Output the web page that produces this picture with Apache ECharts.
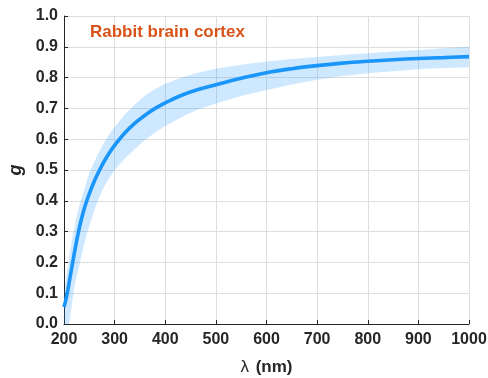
<!DOCTYPE html>
<html>
<head>
<meta charset="utf-8">
<script src="https://cdn.jsdelivr.net/npm/echarts@6/dist/echarts.min.js"></script>
<style>
  html, body { margin: 0; padding: 0; background: #fff; }
  #chart { width: 488px; height: 378px; }
</style>
</head>
<body>
<div id="chart"></div>
<script>
// Wavelength samples (nm)
const wavelength = [200, 205, 210, 215, 220, 225, 230, 235, 240, 245, 250, 260, 270, 280, 290, 300, 320, 340, 360, 380, 400, 430, 460, 500, 550, 600, 650, 700, 750, 800, 850, 900, 950, 1000];
// Anisotropy factor g (mean curve)
const gMean = [0.055, 0.088, 0.133, 0.18, 0.226, 0.27, 0.31, 0.344, 0.374, 0.40, 0.423, 0.464, 0.499, 0.53, 0.557, 0.58, 0.62, 0.652, 0.678, 0.70, 0.718, 0.741, 0.759, 0.777, 0.798, 0.816, 0.829, 0.839, 0.847, 0.853, 0.858, 0.862, 0.865, 0.868];
// Uncertainty band limits
const gUpper = [0.10, 0.16, 0.215, 0.265, 0.31, 0.35, 0.383, 0.41, 0.437, 0.465, 0.49, 0.527, 0.562, 0.592, 0.617, 0.64, 0.68, 0.713, 0.742, 0.763, 0.78, 0.799, 0.814, 0.829, 0.842, 0.852, 0.86, 0.867, 0.873, 0.879, 0.885, 0.89, 0.895, 0.90];
const gLower = [0.0, 0.0, 0.0, 0.057, 0.115, 0.155, 0.188, 0.225, 0.26, 0.293, 0.32, 0.37, 0.415, 0.448, 0.476, 0.50, 0.537, 0.568, 0.597, 0.622, 0.643, 0.67, 0.693, 0.716, 0.74, 0.76, 0.778, 0.793, 0.805, 0.814, 0.821, 0.827, 0.831, 0.834];

const xTicks = { min: 200, max: 1000, step: 100 };
const yTicks = { min: 0, max: 1, step: 0.1 };

const FONT = '"Liberation Sans", Arial, sans-serif';
const TEXT = '#262626';

const chart = echarts.init(document.getElementById('chart'), null, { renderer: 'canvas' });

const meanData = wavelength.map((x, i) => [x, gMean[i]]);

chart.setOption({
  animation: false,
  backgroundColor: '#ffffff',
  grid: { left: 64, right: 19, top: 16, bottom: 54, containLabel: false, outerBoundsMode: 'none' },
  title: {
    text: 'Rabbit brain cortex',
    left: 90, top: 24, padding: 0,
    textStyle: { color: '#D95319', fontFamily: FONT, fontWeight: 'bold', fontSize: 17 }
  },
  xAxis: {
    type: 'value',
    min: xTicks.min, max: xTicks.max, interval: xTicks.step,
    axisLine: { show: true, onZero: false, lineStyle: { color: TEXT, width: 1 } },
    axisTick: { show: true, inside: true, length: 4, lineStyle: { color: TEXT } },
    axisLabel: {
      color: TEXT, fontFamily: FONT, fontWeight: 'bold', fontSize: 16, margin: 8,
      formatter: v => String(v)
    },
    splitLine: { show: true, lineStyle: { color: '#dedede', width: 1 } },
    name: '{l|λ}  {n|(nm)}',
    nameLocation: 'middle',
    nameGap: 35,
    nameTextStyle: {
      rich: {
        l: { fontFamily: FONT, fontSize: 17, color: TEXT },
        n: { fontFamily: FONT, fontSize: 17, fontWeight: 'bold', color: TEXT }
      }
    }
  },
  yAxis: {
    type: 'value',
    min: yTicks.min, max: yTicks.max, interval: yTicks.step,
    axisLine: { show: true, onZero: false, lineStyle: { color: TEXT, width: 1 } },
    axisTick: { show: true, inside: true, length: 4, lineStyle: { color: TEXT } },
    axisLabel: {
      color: TEXT, fontFamily: FONT, fontWeight: 'bold', fontSize: 16, margin: 6,
      formatter: v => v.toFixed(1)
    },
    splitLine: { show: true, lineStyle: { color: '#dedede', width: 1 } },
    name: 'g',
    nameLocation: 'middle',
    nameGap: 31,
    nameTextStyle: { color: TEXT, fontFamily: FONT, fontSize: 18, fontWeight: 'bold', fontStyle: 'italic' }
  },
  series: [
    {
      // shaded uncertainty band between gLower and gUpper
      type: 'custom',
      clip: true,
      silent: true,
      z: 1,
      data: [[600, 0.5]],
      renderItem: function (params, api) {
        const pts = [];
        for (let i = 0; i < wavelength.length; i++) pts.push(api.coord([wavelength[i], gUpper[i]]));
        for (let i = wavelength.length - 1; i >= 0; i--) pts.push(api.coord([wavelength[i], gLower[i]]));
        return {
          type: 'polygon',
          shape: { points: pts },
          style: { fill: 'rgba(30,150,255,0.22)', stroke: 'none' }
        };
      }
    },
    {
      type: 'line',
      data: meanData,
      smooth: 0.4,
      showSymbol: false,
      z: 3,
      lineStyle: { color: '#1A96FA', width: 3.6 }
    }
  ]
});
</script>
</body>
</html>
